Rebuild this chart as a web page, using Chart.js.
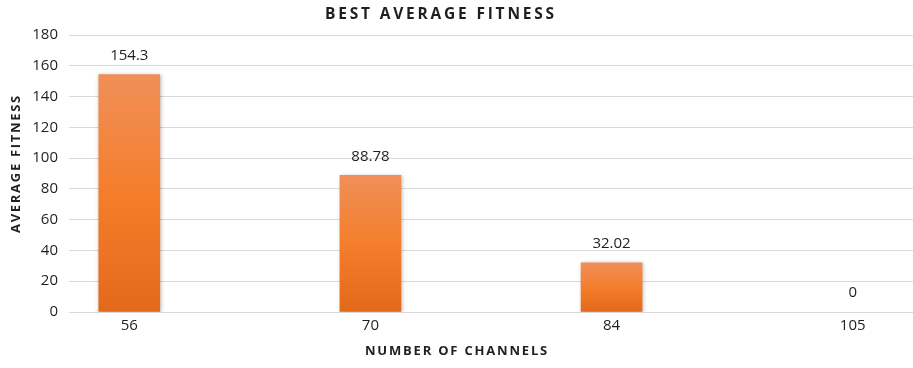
<!DOCTYPE html>
<html>
<head>
<meta charset="utf-8">
<script src="https://cdn.jsdelivr.net/npm/chart.js@4/dist/chart.umd.min.js"></script>
<style>
  html, body { margin: 0; padding: 0; background: #fff; overflow: hidden; }
  #wrap { width: 913px; height: 368px; position: relative; }
</style>
</head>
<body>
<div id="wrap"><canvas id="fitness-chart"></canvas></div>
<script>
const channels = ["56", "70", "84", "105"];
const avgFitness = [154.3, 88.78, 32.02, 0];
const yTicks = [0, 20, 40, 60, 80, 100, 120, 140, 160, 180];

const chartTitle = "BEST AVERAGE FITNESS";
const xTitle = "NUMBER OF CHANNELS";
const yTitle = "AVERAGE FITNESS";

const textColor = "#1f1f1f";
const gridColor = "#d9d9d9";
const fontFamily = "'Open Sans', 'Noto Sans', sans-serif";

// orange fill, lighter at the top of each bar
const barFill = (ctx) => {
  const chart = ctx.chart;
  const { chartArea } = chart;
  if (!chartArea || ctx.type !== "data") return "#F47E2C";
  const yScale = chart.scales.y;
  const top = yScale.getPixelForValue(ctx.raw.y);
  const bottom = yScale.getPixelForValue(0);
  if (bottom - top < 1) return "rgba(0,0,0,0)";
  const g = chart.ctx.createLinearGradient(0, top, 0, bottom);
  g.addColorStop(0, "#F08F58");
  g.addColorStop(0.5, "#F47E2C");
  g.addColorStop(1, "#E3691A");
  return g;
};

const barShadow = {
  id: "barShadow",
  beforeDatasetsDraw(chart) {
    const c = chart.ctx;
    c.save();
    c.shadowColor = "rgba(0,0,0,0.28)";
    c.shadowBlur = 4;
    c.shadowOffsetX = 1;
    c.shadowOffsetY = 1;
  },
  afterDatasetsDraw(chart) {
    chart.ctx.restore();
  },
};

const valueLabels = {
  id: "valueLabels",
  afterDatasetsDraw(chart) {
    const c = chart.ctx;
    const meta = chart.getDatasetMeta(0);
    c.save();
    c.font = `15px ${fontFamily}`;
    c.fillStyle = textColor;
    c.textAlign = "center";
    c.textBaseline = "middle";
    meta.data.forEach((bar, i) => {
      c.fillText(String(avgFitness[i]), bar.x, bar.y - 19);
    });
    c.restore();
  },
};

// spaced-out bold caps for the chart and axis titles
const titles = {
  id: "titles",
  afterDraw(chart) {
    const c = chart.ctx;
    const area = chart.chartArea;
    c.save();
    c.fillStyle = textColor;
    c.textAlign = "center";
    c.textBaseline = "middle";
    c.letterSpacing = "2.8px";
    c.font = `bold 15.5px ${fontFamily}`;
    c.fillText(chartTitle, 441, 15);
    c.letterSpacing = "1.8px";
    c.font = `bold 13px ${fontFamily}`;
    c.fillText(xTitle, 457, 351);
    c.translate(16, (area.top + area.bottom) / 2 - 10);
    c.rotate(-Math.PI / 2);
    c.letterSpacing = "1.7px";
    c.fillText(yTitle, 0, 0);
    c.restore();
  },
};

new Chart(document.getElementById("fitness-chart"), {
  type: "bar",
  data: {
    datasets: [
      {
        data: avgFitness.map((v, i) => ({ x: i, y: v })),
        backgroundColor: barFill,
        borderWidth: 0,
        barThickness: 61,
      },
    ],
  },
  options: {
    responsive: true,
    maintainAspectRatio: false,
    animation: false,
    layout: { padding: { top: 35, left: 0, right: 0, bottom: 0 } },
    plugins: {
      legend: { display: false },
      tooltip: { enabled: false },
    },
    scales: {
      x: {
        type: "linear",
        offset: false,
        min: -0.25,
        max: 3.25,
        grid: { display: false, drawTicks: false },
        border: { display: false },
        ticks: {
          stepSize: 1,
          includeBounds: false,
          padding: 5,
          color: textColor,
          font: { family: fontFamily, size: 15 },
          callback: (v) => channels[v] ?? "",
        },
        afterFit: (scale) => { scale.height = 56; },
      },
      y: {
        min: 0,
        max: 180,
        afterBuildTicks: (scale) => { scale.ticks = yTicks.map((v) => ({ value: v })); },
        grid: { color: gridColor, lineWidth: 1, drawTicks: false },
        border: { display: false },
        ticks: {
          padding: 11,
          color: textColor,
          font: { family: fontFamily, size: 15 },
        },
        afterFit: (scale) => { scale.width = 69; },
      },
    },
  },
  plugins: [barShadow, valueLabels, titles],
});
</script>
</body>
</html>
